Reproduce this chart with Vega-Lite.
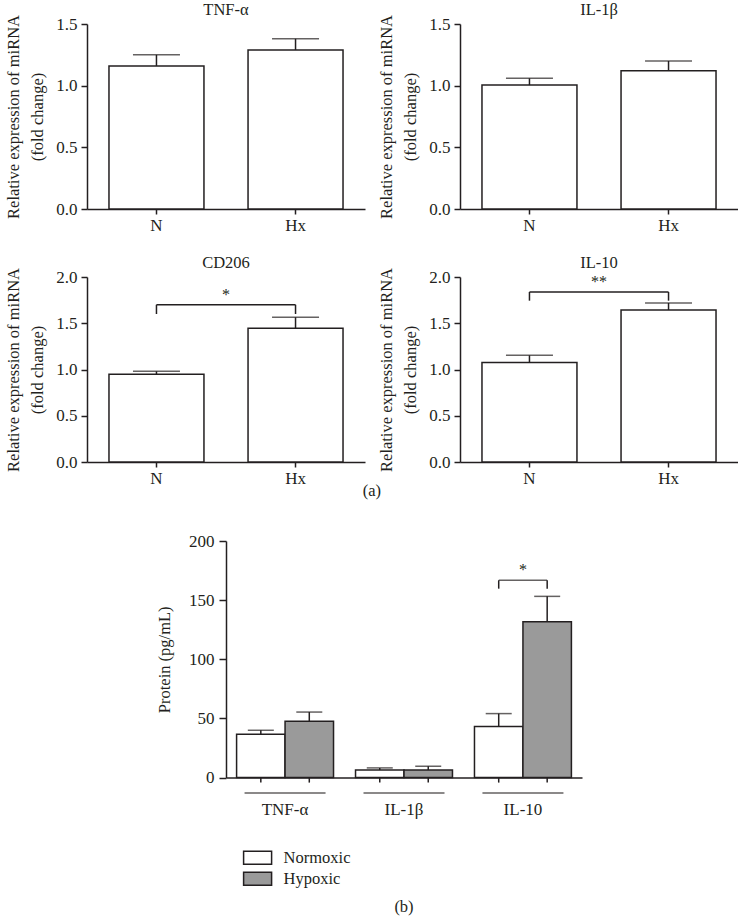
{
  "$schema": "https://vega.github.io/schema/vega-lite/v6.json",
  "padding": {"left": 5, "top": 2, "right": 0, "bottom": 0},
  "background": "white",
  "config": {
    "font": "Liberation Serif",
    "view": {"stroke": null},
    "axis": {"grid": false, "domainColor": "#231f20", "domainWidth": 1.5, "tickColor": "#231f20", "tickWidth": 1.5, "labelColor": "#231f20", "titleColor": "#231f20", "labelFont": "Liberation Serif", "titleFont": "Liberation Serif", "labelFontSize": 17, "titleFontSize": 16.5, "titleFontWeight": "normal"},
    "title": {"font": "Liberation Serif", "fontSize": 16.5, "fontWeight": "normal", "color": "#231f20", "offset": -4},
    "legend": {"orient": "none", "legendX": 20.6, "legendY": 305.8, "padding": 0, "symbolType": "M-1.4,-0.65H1.4V0.65H-1.4Z", "symbolSize": 400, "symbolStrokeColor": "#231f20", "symbolStrokeWidth": 1.5, "labelFont": "Liberation Serif", "labelFontSize": 16.5, "labelColor": "#231f20", "labelOffset": 15, "rowPadding": 0}
  },
  "center": true,
  "spacing": 32,
  "resolve": {"scale": {"fill": "independent"}, "legend": {"fill": "independent"}},
  "vconcat": [
    {
      "title": {"text": "(a)", "orient": "bottom", "anchor": "middle", "offset": -3},
      "spacing": 22,
      "vconcat": [
        {
          "spacing": 13,
          "hconcat": [
            {
              "width": 278, "height": 185,
              "title": "TNF-α",
              "layer": [
                {
                  "data": {"values": [{"cond": "N", "value": 1.16, "upper": 1.25}, {"cond": "Hx", "value": 1.29, "upper": 1.38}]},
                  "layer": [
                    {"mark": {"type": "bar", "fill": "white", "stroke": "#231f20", "strokeWidth": 1.5},
                     "encoding": {
                       "x": {"field": "cond", "type": "nominal", "scale": {"domain": ["N", "Hx"], "paddingInner": 0.317, "paddingOuter": 0.158}, "axis": {"title": null, "labelAngle": 0, "tickSize": 5, "labelPadding": 3}},
                       "y": {"field": "value", "type": "quantitative", "title": ["Relative expression of miRNA", "(fold change)"], "scale": {"domain": [0, 1.5], "nice": false}, "axis": {"values": [0, 0.5, 1, 1.5], "format": ".1f", "tickSize": 6, "labelPadding": 4, "titlePadding": 10, "titleLineHeight": 24}}
                     }},
                    {"mark": {"type": "rule", "color": "#231f20", "strokeWidth": 1.5},
                     "encoding": {"x": {"field": "cond", "type": "nominal"}, "y": {"field": "value", "type": "quantitative", "title": ["Relative expression of miRNA", "(fold change)"]}, "y2": {"field": "upper"}}},
                    {"mark": {"type": "tick", "color": "#231f20", "size": 47, "thickness": 1.5},
                     "encoding": {"x": {"field": "cond", "type": "nominal"}, "y": {"field": "upper", "type": "quantitative", "title": ["Relative expression of miRNA", "(fold change)"]}}}
                  ]
                }
              ]
            },
            {
              "width": 278, "height": 185,
              "title": "IL-1β",
              "layer": [
                {
                  "data": {"values": [{"cond": "N", "value": 1.005, "upper": 1.06}, {"cond": "Hx", "value": 1.12, "upper": 1.2}]},
                  "layer": [
                    {"mark": {"type": "bar", "fill": "white", "stroke": "#231f20", "strokeWidth": 1.5},
                     "encoding": {
                       "x": {"field": "cond", "type": "nominal", "scale": {"domain": ["N", "Hx"], "paddingInner": 0.317, "paddingOuter": 0.158}, "axis": {"title": null, "labelAngle": 0, "tickSize": 5, "labelPadding": 3}},
                       "y": {"field": "value", "type": "quantitative", "title": ["Relative expression of miRNA", "(fold change)"], "scale": {"domain": [0, 1.5], "nice": false}, "axis": {"values": [0, 0.5, 1, 1.5], "format": ".1f", "tickSize": 6, "labelPadding": 4, "titlePadding": 10, "titleLineHeight": 24}}
                     }},
                    {"mark": {"type": "rule", "color": "#231f20", "strokeWidth": 1.5},
                     "encoding": {"x": {"field": "cond", "type": "nominal"}, "y": {"field": "value", "type": "quantitative", "title": ["Relative expression of miRNA", "(fold change)"]}, "y2": {"field": "upper"}}},
                    {"mark": {"type": "tick", "color": "#231f20", "size": 47, "thickness": 1.5},
                     "encoding": {"x": {"field": "cond", "type": "nominal"}, "y": {"field": "upper", "type": "quantitative", "title": ["Relative expression of miRNA", "(fold change)"]}}}
                  ]
                }
              ]
            }
          ]
        },
        {
          "spacing": 13,
          "hconcat": [
            {
              "width": 278, "height": 185,
              "title": "CD206",
              "layer": [
                {
                  "data": {"values": [{"cond": "N", "value": 0.95, "upper": 0.98}, {"cond": "Hx", "value": 1.445, "upper": 1.565}]},
                  "layer": [
                    {"mark": {"type": "bar", "fill": "white", "stroke": "#231f20", "strokeWidth": 1.5},
                     "encoding": {
                       "x": {"field": "cond", "type": "nominal", "scale": {"domain": ["N", "Hx"], "paddingInner": 0.317, "paddingOuter": 0.158}, "axis": {"title": null, "labelAngle": 0, "tickSize": 5, "labelPadding": 3}},
                       "y": {"field": "value", "type": "quantitative", "title": ["Relative expression of miRNA", "(fold change)"], "scale": {"domain": [0, 2], "nice": false}, "axis": {"values": [0, 0.5, 1, 1.5, 2], "format": ".1f", "tickSize": 6, "labelPadding": 4, "titlePadding": 10, "titleLineHeight": 24}}
                     }},
                    {"mark": {"type": "rule", "color": "#231f20", "strokeWidth": 1.5},
                     "encoding": {"x": {"field": "cond", "type": "nominal"}, "y": {"field": "value", "type": "quantitative", "title": ["Relative expression of miRNA", "(fold change)"]}, "y2": {"field": "upper"}}},
                    {"mark": {"type": "tick", "color": "#231f20", "size": 47, "thickness": 1.5},
                     "encoding": {"x": {"field": "cond", "type": "nominal"}, "y": {"field": "upper", "type": "quantitative", "title": ["Relative expression of miRNA", "(fold change)"]}}}
                  ]
                },
                {
                  "data": {"values": [{"left": "N", "right": "Hx", "top": 1.70, "leg": 1.60, "label": "*"}]},
                  "layer": [
                    {"mark": {"type": "rule", "color": "#231f20", "strokeWidth": 1.5},
                     "encoding": {"x": {"field": "left", "type": "nominal"}, "x2": {"field": "right"}, "y": {"field": "top", "type": "quantitative", "title": ["Relative expression of miRNA", "(fold change)"]}}},
                    {"mark": {"type": "rule", "color": "#231f20", "strokeWidth": 1.5},
                     "encoding": {"x": {"field": "left", "type": "nominal"}, "y": {"field": "leg", "type": "quantitative", "title": ["Relative expression of miRNA", "(fold change)"]}, "y2": {"field": "top"}}},
                    {"mark": {"type": "rule", "color": "#231f20", "strokeWidth": 1.5},
                     "encoding": {"x": {"field": "right", "type": "nominal"}, "y": {"field": "leg", "type": "quantitative", "title": ["Relative expression of miRNA", "(fold change)"]}, "y2": {"field": "top"}}},
                    {"mark": {"type": "text", "color": "#231f20", "fontSize": 16, "dx": 69.5, "dy": -2, "baseline": "bottom"},
                     "encoding": {"x": {"field": "left", "type": "nominal"}, "y": {"field": "top", "type": "quantitative", "title": ["Relative expression of miRNA", "(fold change)"]}, "text": {"field": "label"}}}
                  ]
                }
              ]
            },
            {
              "width": 278, "height": 185,
              "title": "IL-10",
              "layer": [
                {
                  "data": {"values": [{"cond": "N", "value": 1.077, "upper": 1.153}, {"cond": "Hx", "value": 1.643, "upper": 1.719}]},
                  "layer": [
                    {"mark": {"type": "bar", "fill": "white", "stroke": "#231f20", "strokeWidth": 1.5},
                     "encoding": {
                       "x": {"field": "cond", "type": "nominal", "scale": {"domain": ["N", "Hx"], "paddingInner": 0.317, "paddingOuter": 0.158}, "axis": {"title": null, "labelAngle": 0, "tickSize": 5, "labelPadding": 3}},
                       "y": {"field": "value", "type": "quantitative", "title": ["Relative expression of miRNA", "(fold change)"], "scale": {"domain": [0, 2], "nice": false}, "axis": {"values": [0, 0.5, 1, 1.5, 2], "format": ".1f", "tickSize": 6, "labelPadding": 4, "titlePadding": 10, "titleLineHeight": 24}}
                     }},
                    {"mark": {"type": "rule", "color": "#231f20", "strokeWidth": 1.5},
                     "encoding": {"x": {"field": "cond", "type": "nominal"}, "y": {"field": "value", "type": "quantitative", "title": ["Relative expression of miRNA", "(fold change)"]}, "y2": {"field": "upper"}}},
                    {"mark": {"type": "tick", "color": "#231f20", "size": 47, "thickness": 1.5},
                     "encoding": {"x": {"field": "cond", "type": "nominal"}, "y": {"field": "upper", "type": "quantitative", "title": ["Relative expression of miRNA", "(fold change)"]}}}
                  ]
                },
                {
                  "data": {"values": [{"left": "N", "right": "Hx", "top": 1.838, "leg": 1.744, "label": "**"}]},
                  "layer": [
                    {"mark": {"type": "rule", "color": "#231f20", "strokeWidth": 1.5},
                     "encoding": {"x": {"field": "left", "type": "nominal"}, "x2": {"field": "right"}, "y": {"field": "top", "type": "quantitative", "title": ["Relative expression of miRNA", "(fold change)"]}}},
                    {"mark": {"type": "rule", "color": "#231f20", "strokeWidth": 1.5},
                     "encoding": {"x": {"field": "left", "type": "nominal"}, "y": {"field": "leg", "type": "quantitative", "title": ["Relative expression of miRNA", "(fold change)"]}, "y2": {"field": "top"}}},
                    {"mark": {"type": "rule", "color": "#231f20", "strokeWidth": 1.5},
                     "encoding": {"x": {"field": "right", "type": "nominal"}, "y": {"field": "leg", "type": "quantitative", "title": ["Relative expression of miRNA", "(fold change)"]}, "y2": {"field": "top"}}},
                    {"mark": {"type": "text", "color": "#231f20", "fontSize": 16, "dx": 69.5, "dy": -2, "baseline": "bottom"},
                     "encoding": {"x": {"field": "left", "type": "nominal"}, "y": {"field": "top", "type": "quantitative", "title": ["Relative expression of miRNA", "(fold change)"]}, "text": {"field": "label"}}}
                  ]
                }
              ]
            }
          ]
        }
      ]
    },
    {
      "width": 356, "height": 236.6,
      "title": {"text": "(b)", "orient": "bottom", "anchor": "middle", "offset": 10},
      "resolve": {"axis": {"y": "independent"}},
      "layer": [
        {
          "data": {"values": [
            {"group": "TNF-α", "cond": "Normoxic", "value": 36.6, "upper": 40.0},
            {"group": "TNF-α", "cond": "Hypoxic", "value": 47.6, "upper": 55.4},
            {"group": "IL-1β", "cond": "Normoxic", "value": 6.4, "upper": 8.2},
            {"group": "IL-1β", "cond": "Hypoxic", "value": 6.4, "upper": 9.6},
            {"group": "IL-10", "cond": "Normoxic", "value": 43.3, "upper": 54.1},
            {"group": "IL-10", "cond": "Hypoxic", "value": 131.8, "upper": 153.2}
          ]},
          "layer": [
            {"mark": {"type": "bar", "stroke": "#231f20", "strokeWidth": 1.5},
             "encoding": {
               "x": {"field": "group", "type": "nominal", "sort": ["TNF-α", "IL-1β", "IL-10"], "scale": {"paddingInner": 0.185, "paddingOuter": 0.089}, "axis": {"title": null, "labelAngle": 0, "ticks": false, "labelPadding": 24}},
               "xOffset": {"field": "cond", "type": "nominal", "sort": ["Normoxic", "Hypoxic"], "scale": {"paddingInner": 0, "paddingOuter": 0}},
               "y": {"field": "value", "type": "quantitative", "title": "Protein (pg/mL)", "scale": {"domain": [0, 200], "nice": false}, "axis": {"values": [0, 50, 100, 150, 200], "tickSize": 7, "labelPadding": 5, "titleX": -54}},
               "fill": {"field": "cond", "type": "nominal", "sort": ["Normoxic", "Hypoxic"], "scale": {"domain": ["Normoxic", "Hypoxic"], "range": ["white", "#9a9a9a"]}, "legend": {"title": null}}
             }},
            {"mark": {"type": "rule", "color": "#231f20", "strokeWidth": 1.5},
             "encoding": {"x": {"field": "group", "type": "nominal", "sort": ["TNF-α", "IL-1β", "IL-10"]}, "xOffset": {"field": "cond", "type": "nominal", "sort": ["Normoxic", "Hypoxic"]}, "y": {"field": "value", "type": "quantitative", "title": "Protein (pg/mL)"}, "y2": {"field": "upper"}}},
            {"mark": {"type": "tick", "color": "#231f20", "size": 26, "thickness": 1.5},
             "encoding": {"x": {"field": "group", "type": "nominal", "sort": ["TNF-α", "IL-1β", "IL-10"]}, "xOffset": {"field": "cond", "type": "nominal", "sort": ["Normoxic", "Hypoxic"]}, "y": {"field": "upper", "type": "quantitative", "title": "Protein (pg/mL)"}}},
            {"mark": {"type": "rule", "color": "#231f20", "strokeWidth": 1.5, "y2Offset": 5},
             "encoding": {"x": {"field": "group", "type": "nominal", "sort": ["TNF-α", "IL-1β", "IL-10"]}, "xOffset": {"field": "cond", "type": "nominal", "sort": ["Normoxic", "Hypoxic"]}, "y": {"datum": 0, "type": "quantitative", "title": "Protein (pg/mL)"}, "y2": {"datum": 0}}},
            {"transform": [{"filter": "datum.cond === 'Normoxic'"}],
             "mark": {"type": "tick", "color": "#231f20", "size": 81, "thickness": 1.5, "yOffset": 15.5},
             "encoding": {"x": {"field": "group", "type": "nominal", "sort": ["TNF-α", "IL-1β", "IL-10"]}, "y": {"datum": 0, "type": "quantitative", "title": "Protein (pg/mL)"}}}
          ]
        },
        {
          "data": {"values": [
            {"group": "IL-10", "cond": "Normoxic", "top": 166.8, "leg": 159.7, "label": "*"},
            {"group": "IL-10", "cond": "Hypoxic", "top": 166.8, "leg": 159.7, "label": "*"}
          ]},
          "layer": [
            {"mark": {"type": "rule", "color": "#231f20", "strokeWidth": 1.5},
             "encoding": {"x": {"field": "group", "type": "nominal", "sort": ["TNF-α", "IL-1β", "IL-10"]}, "xOffset": {"field": "cond", "type": "nominal", "sort": ["Normoxic", "Hypoxic"]}, "y": {"field": "leg", "type": "quantitative", "axis": {"orient": "right", "domain": false, "ticks": false, "labels": false, "title": null, "minExtent": 17, "maxExtent": 17}}, "y2": {"field": "top"}}},
            {"transform": [{"filter": "datum.cond === 'Normoxic'"}],
             "mark": {"type": "tick", "color": "#231f20", "size": 48.3, "thickness": 1.5},
             "encoding": {"x": {"field": "group", "type": "nominal", "sort": ["TNF-α", "IL-1β", "IL-10"]}, "y": {"field": "top", "type": "quantitative", "axis": {"orient": "right", "domain": false, "ticks": false, "labels": false, "title": null, "minExtent": 17, "maxExtent": 17}}}},
            {"transform": [{"filter": "datum.cond === 'Normoxic'"}],
             "mark": {"type": "text", "color": "#231f20", "fontSize": 16, "dy": -2, "baseline": "bottom"},
             "encoding": {"x": {"field": "group", "type": "nominal", "sort": ["TNF-α", "IL-1β", "IL-10"]}, "y": {"field": "top", "type": "quantitative", "axis": {"orient": "right", "domain": false, "ticks": false, "labels": false, "title": null, "minExtent": 17, "maxExtent": 17}}, "text": {"field": "label"}}}
          ]
        }
      ]
    }
  ]
}
